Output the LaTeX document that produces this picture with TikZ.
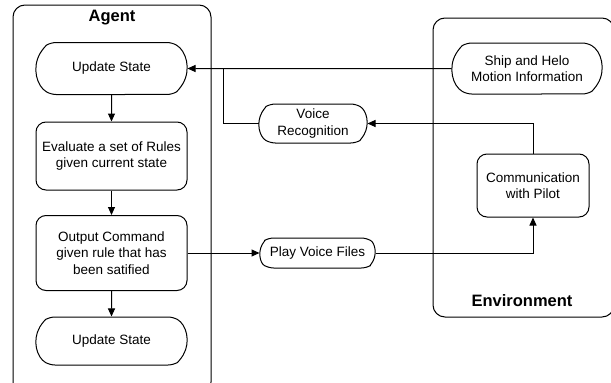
\documentclass[tikz,border=0pt]{standalone}
\usepackage{fontspec}
\setmainfont{Liberation Sans}
\usetikzlibrary{positioning, arrows.meta, shapes.misc}

\tikzset{
  stepbox/.style={draw, rounded corners=10pt, align=center, inner sep=0pt,
                  font=\fontsize{13.5}{16.5}\selectfont},
  pill/.style={draw, rounded rectangle, rounded rectangle arc length=120,
               rounded corners=5pt,
               align=center, inner sep=0pt, font=\fontsize{13.5}{16.5}\selectfont},
  title/.style={font=\fontsize{16.5}{18}\selectfont\bfseries},
  link/.style={-{Triangle[length=8pt,width=7pt]}},
}

\begin{document}
\begin{tikzpicture}[x=1pt, y=-1pt, line width=1pt]
  \useasboundingbox (0,0) rectangle (611,383);

  % the two containers run off the edge
  \begin{scope}
    \clip (0,0) rectangle (611,383);
    \draw[rounded corners=12pt] (13,5) rectangle (211,394);
    \draw[rounded corners=12pt] (433,18) rectangle (614,317);
  \end{scope}
  \node[title] (agenttitle) at (112,18) {Agent};
  \node[title] (envtitle) at (522,301) {Environment};

  % agent loop
  \node[pill, minimum width=151pt, minimum height=52pt] (upd) at (111.5,68.5) {Update State};
  \node[stepbox, minimum width=151pt, minimum height=68pt] (eval) at (111.5,156) {Evaluate a set of Rules\\given current state};
  \node[stepbox, minimum width=151pt, minimum height=75pt] (outc) at (111.5,253) {Output Command\\given rule that has\\been satified};
  \node[pill, minimum width=151pt, minimum height=48pt] (upd2) at (111.5,341) {Update State};

  % environment side
  \node[pill, minimum width=150pt, minimum height=51pt] (ship) at (527,68.5) {Ship and Helo\\Motion Information};
  \node[stepbox, minimum width=112pt, minimum height=63pt] (comm) at (533,185.5) {Communication\\with Pilot};
  \node[pill, minimum width=108pt, minimum height=39pt] (voice) at (313,123.5) {Voice\\Recognition};
  \node[pill, minimum width=115pt, minimum height=30pt] (play) at (317.5,253) {Play Voice Files};

  \coordinate (join) at (223,68.5);

  \draw[link] (upd) -- (eval);
  \draw[link] (eval) -- (outc);
  \draw[link] (outc) -- (upd2);

  \draw[link] (ship) -- (upd);
  \draw (voice.west) -| (join);
  \draw[link] (comm.north) |- (voice.east);
  \draw[link] (outc) -- (play);
  \draw[link] (play.east) -| (comm.south);
\end{tikzpicture}
\end{document}
